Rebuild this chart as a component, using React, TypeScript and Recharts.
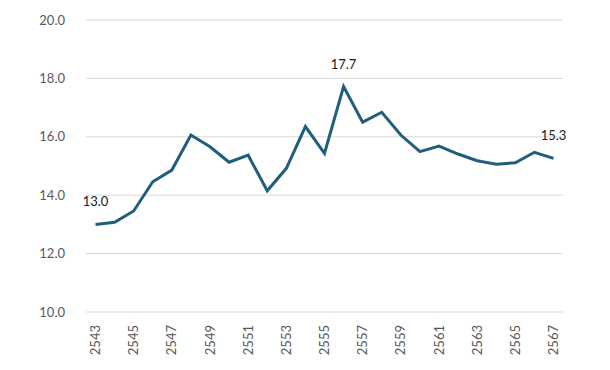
import React from "react";
import { LineChart, Line, XAxis, YAxis, CartesianGrid } from "recharts";

const years = [
  "2543", "2544", "2545", "2546", "2547", "2548", "2549", "2550", "2551", "2552",
  "2553", "2554", "2555", "2556", "2557", "2558", "2559", "2560", "2561", "2562",
  "2563", "2564", "2565", "2566", "2567",
];
const values = [
  13.0, 13.07, 13.46, 14.46, 14.86, 16.06, 15.66, 15.13, 15.37, 14.15,
  14.92, 16.35, 15.43, 17.72, 16.5, 16.84, 16.06, 15.49, 15.68, 15.41,
  15.18, 15.06, 15.11, 15.47, 15.26,
];
const yTicks = [10, 12, 14, 16, 18, 20];
const labelledIndexes = [0, 13, 24];

const data = years.map((y, i) => ({ year: y, value: values[i] }));

const FONT = "Lato, 'Liberation Sans', Arial, sans-serif";

const XTick = (props: any) => {
  const { x, y, payload } = props;
  return (
    <text
      x={x}
      y={y}
      transform={`rotate(-90, ${x}, ${y})`}
      textAnchor="end"
      dy="0.35em"
      fontSize={13}
      fontFamily={FONT}
      fill="#595959"
    >
      {payload.value}
    </text>
  );
};

const PointLabel = (props: any) => {
  const { x, y, index, value } = props;
  if (!labelledIndexes.includes(index)) return null;
  return (
    <text
      x={x}
      y={y - 18}
      textAnchor="middle"
      fontSize={13}
      fontFamily={FONT}
      fill="#1a1a1a"
    >
      {Number(value).toFixed(1)}
    </text>
  );
};

export default function App() {
  return (
    <div style={{ position: "absolute", left: 0, top: 0, background: "#fff" }}>
      <LineChart
        width={610}
        height={370}
        data={data}
        margin={{ top: 20, right: 47, left: 0, bottom: 0 }}
      >
        <CartesianGrid vertical={false} stroke="#d9d9d9" strokeWidth={1} />
        <XAxis
          dataKey="year"
          interval={1}
          axisLine={false}
          tickLine={false}
          tickSize={0}
          tickMargin={13}
          height={58}
          padding={{ left: 9.5, right: 9.5 }}
          tick={<XTick />}
        />
        <YAxis
          domain={[10, 20]}
          ticks={yTicks}
          axisLine={false}
          tickLine={false}
          tickSize={0}
          tickMargin={21}
          width={86}
          tickFormatter={(v: number) => v.toFixed(1)}
          tick={{ fontSize: 13, fontFamily: FONT, fill: "#595959" }}
        />
        <Line
          type="linear"
          dataKey="value"
          stroke="#1f5f7b"
          strokeWidth={3}
          dot={false}
          isAnimationActive={false}
          label={<PointLabel />}
        />
      </LineChart>
    </div>
  );
}
